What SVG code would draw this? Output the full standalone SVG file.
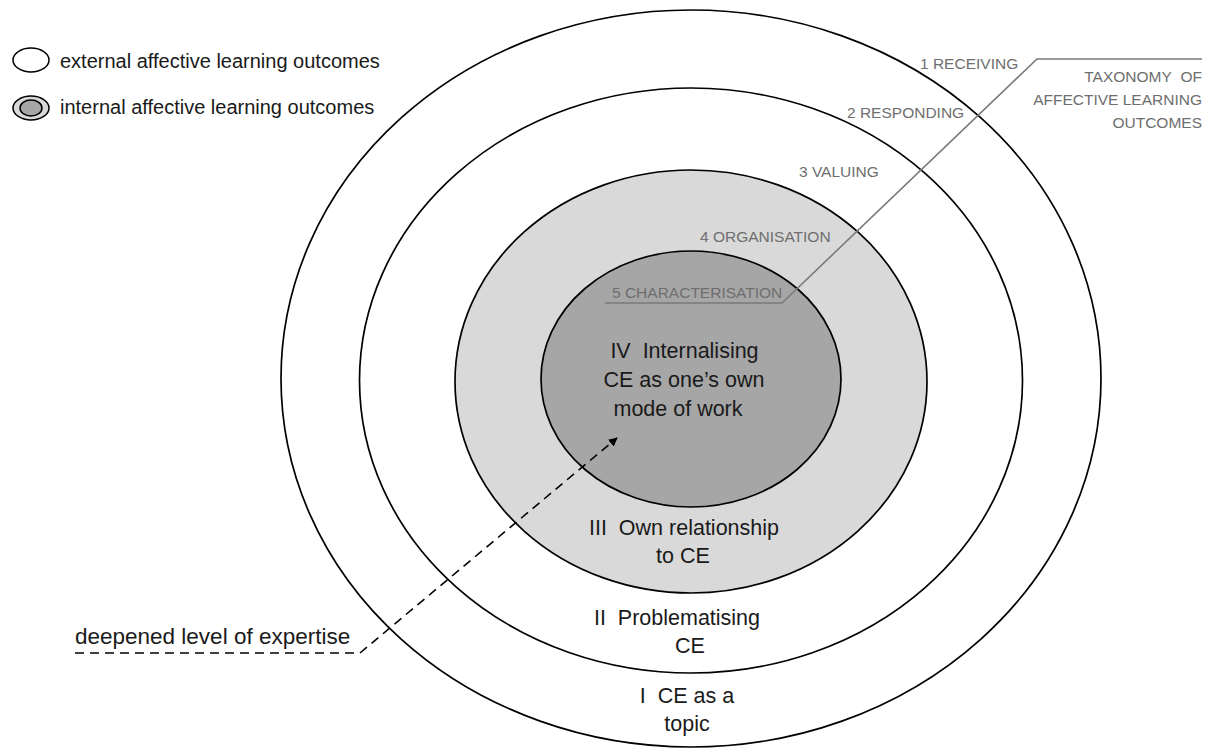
<svg xmlns="http://www.w3.org/2000/svg" width="1211" height="749" viewBox="0 0 1211 749">
<defs>
<style>
.ring{stroke:#000;stroke-width:1.7}
.lbl{font-family:"Liberation Sans",Arial,sans-serif;font-size:21.5px;fill:#1a1a1a;text-anchor:middle}
.tax{font-family:"Liberation Sans",Arial,sans-serif;font-size:15.5px;fill:#6e6e6e}
.leg{font-family:"Liberation Sans",Arial,sans-serif;font-size:20px;fill:#1a1a1a}
</style>
<marker id="arr" viewBox="0 0 10 10" refX="9" refY="5" markerWidth="9" markerHeight="9" markerUnits="userSpaceOnUse" orient="auto">
<path d="M0,0 L10,5 L0,10 z" fill="#000"/>
</marker>
</defs>
<rect width="1211" height="749" fill="#fff"/>
<g id="ring1">
<ellipse class="ring" cx="691" cy="378.5" rx="410" ry="368.5" fill="#fff"/>
</g>
<g id="ring2">
<ellipse class="ring" cx="691" cy="380.5" rx="331.5" ry="292.5" fill="#fff"/>
</g>
<g id="ring3">
<ellipse class="ring" cx="691" cy="381.5" rx="236" ry="211.5" fill="#d9d9d9"/>
</g>
<g id="ring4">
<ellipse class="ring" cx="691" cy="379" rx="150" ry="128" fill="#a6a6a6"/>
</g>
<g id="labels">
<text class="lbl" x="684.5" y="358">IV&#160; Internalising</text>
<text class="lbl" x="684" y="387">CE as one’s own</text>
<text class="lbl" x="678" y="416">mode of work</text>
<text class="lbl" x="684" y="535">III&#160; Own relationship</text>
<text class="lbl" x="683" y="563">to CE</text>
<text class="lbl" x="677" y="625">II&#160; Problematising</text>
<text class="lbl" x="690" y="653">CE</text>
<text class="lbl" x="687" y="703">I&#160; CE as a</text>
<text class="lbl" x="687" y="731">topic</text>
</g>
<g id="taxonomy">
<text class="tax" x="920" y="69">1 RECEIVING</text>
<text class="tax" x="847" y="118">2 RESPONDING</text>
<text class="tax" x="799" y="177">3 VALUING</text>
<text class="tax" x="700" y="242">4 ORGANISATION</text>
<text class="tax" x="612" y="298">5 CHARACTERISATION</text>
<text class="tax" x="1202" y="82" text-anchor="end">TAXONOMY&#160; OF</text>
<text class="tax" x="1202" y="105" text-anchor="end">AFFECTIVE LEARNING</text>
<text class="tax" x="1202" y="128" text-anchor="end">OUTCOMES</text>
</g>
<g id="legend">
<ellipse cx="31" cy="60" rx="18" ry="12" fill="#fff" stroke="#000" stroke-width="1.5"/>
<ellipse cx="31" cy="108" rx="18" ry="12" fill="#d9d9d9" stroke="#000" stroke-width="1.5"/>
<ellipse cx="31" cy="108" rx="11" ry="8" fill="#a6a6a6" stroke="#000" stroke-width="1.5"/>
<text class="leg" x="60" y="68">external affective learning outcomes</text>
<text class="leg" x="60" y="114">internal affective learning outcomes</text>
</g>
<g id="expertise">
<text class="lbl" x="75" y="644" style="text-anchor:start;font-size:22.5px">deepened level of expertise</text>
</g>
<g id="connectors">
<polyline points="1202,59 1037,59 782,303 605,303" fill="none" stroke="#7a7a7a" stroke-width="1.6"/>
<polyline points="75,653 360,653 617,438" fill="none" stroke="#000" stroke-width="1.6" stroke-dasharray="9,6" marker-end="url(#arr)"/>
</g>
</svg>
